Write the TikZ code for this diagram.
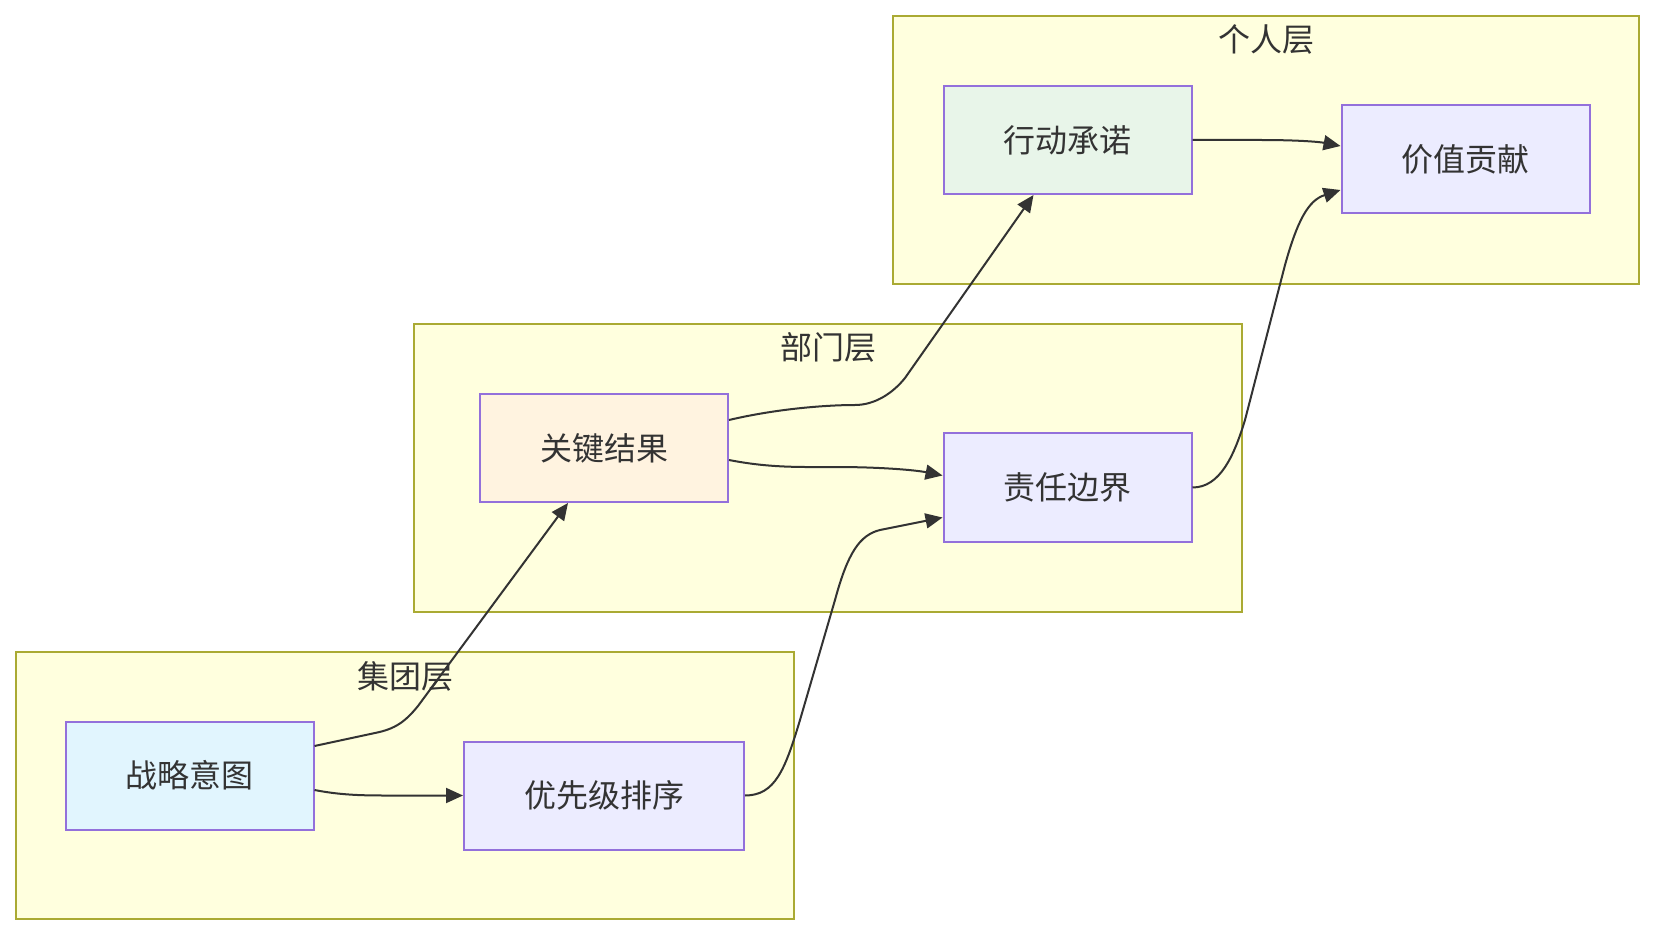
\documentclass[tikz,border=0pt]{standalone}
\usepackage{fontspec}
\usepackage{tikz}
\usetikzlibrary{positioning, arrows.meta}
\newfontfamily\cjk{Noto Sans CJK SC}
\definecolor{layerFill}{HTML}{FFFFDE}
\definecolor{layerLine}{HTML}{AAAA33}
\definecolor{boxFill}{HTML}{ECECFF}
\definecolor{boxLine}{HTML}{9370DB}
\definecolor{greenFill}{HTML}{E8F5E9}
\definecolor{orangeFill}{HTML}{FFF3E0}
\definecolor{blueFill}{HTML}{E1F5FE}
\definecolor{inkGrey}{HTML}{333333}

\begin{document}
\begin{tikzpicture}[x=0.5pt, y=-0.5pt,
    okrbox/.style={rectangle, draw=boxLine, fill=boxFill, line width=1pt, minimum width=124pt, minimum height=54pt, inner sep=0pt, text=inkGrey, font=\cjk\fontsize{16}{19}\selectfont},
    layer/.style={draw=layerLine, fill=layerFill, line width=1pt},
    layertitle/.style={inner sep=0pt, text=inkGrey, font=\cjk\fontsize{16}{19}\selectfont},
    flow/.style={draw=inkGrey, line width=1pt, -{Triangle[length=8.5pt, width=7.5pt]}}]
            \useasboundingbox (0,0) rectangle (1656,936);
            \draw[layer] (893,16) rectangle (1639,284);
            \draw[layer] (414,324) rectangle (1242,612);
            \draw[layer] (16,652) rectangle (794,919);
            \node[layertitle] (tPerson) at (1266,39) {个人层};
            \node[layertitle] (tDept) at (828,347) {部门层};
            \node[layertitle] (tGroup) at (405,676) {集团层};
            \node[okrbox, fill=greenFill] (xdcn) at (1067.5,140) {行动承诺};
            \node[okrbox] (jzgx) at (1465.5,159.5) {价值贡献};
            \node[okrbox, fill=orangeFill] (gjjg) at (604,448) {关键结果};
            \node[okrbox] (zrbj) at (1067.5,487.5) {责任边界};
            \node[okrbox, fill=blueFill] (zlyt) at (189.5,775.5) {战略意图};
            \node[okrbox, minimum width=140pt] (yxjpx) at (604,795.5) {优先级排序};
            \draw[flow] ([yshift=14.75pt]zlyt.east) -- (375,733) .. controls (395,729) and (405,722) .. (418,706) -- ([xshift=-18pt]gjjg.south);
            \draw[flow] ([yshift=-7.25pt]zlyt.east) .. controls (345,796) and (370,795.5) .. (400,795.5) -- (yxjpx.west);
            \draw[flow] (yxjpx.east) .. controls (775,795.5) and (785,770) .. (800,720) -- (835,600) .. controls (848,552) and (860,535) .. (880,530) -- ([yshift=-15pt]zrbj.west);
            \draw[flow] ([yshift=14pt]gjjg.east) .. controls (780,408) and (830,405) .. (855,405) .. controls (875,405) and (893,393) .. (905,378) -- ([xshift=-17pt]xdcn.south);
            \draw[flow] ([yshift=-6pt]gjjg.east) .. controls (770,468) and (800,467) .. (835,467) .. controls (880,467) and (915,470) .. ([yshift=6pt]zrbj.west);
            \draw[flow] (xdcn.east) -- (1260,140) .. controls (1300,140) and (1320,142) .. ([yshift=6.75pt]jzgx.west);
            \draw[flow] (zrbj.east) .. controls (1220,487.5) and (1234,456) .. (1245,420) -- (1285,265) .. controls (1297,222) and (1308,200) .. (1325,195) -- ([yshift=-15.25pt]jzgx.west);
        \end{tikzpicture}
\end{document}
